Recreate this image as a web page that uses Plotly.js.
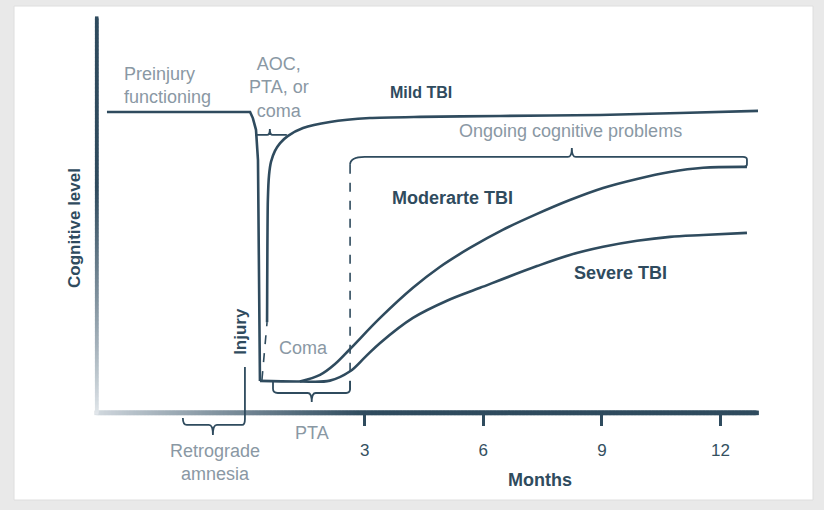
<!DOCTYPE html>
<html><head><meta charset="utf-8">
<script src="https://cdn.plot.ly/plotly-3.0.1.min.js"></script>
<style>html,body{margin:0;padding:0;background:#e9e9e9;overflow:hidden}#chart{width:824px;height:510px}</style>
</head><body><div id="chart"></div>
<script>
// ---- data (x = months after injury, y = cognitive level, arbitrary units) ----
const preinjuryMonths = [-3.52, 0.10, 0.17, 0.25, 0.30, 0.32, 0.35];
const preinjuryLevel  = [99.8, 99.8, 97.8, 93.9, 83.9, 54.0, 10.6];

const mildDashMonths = [0.40, 0.53];
const mildDashLevel  = [10.9, 30.1];
const mildMonths = [0.53, 0.55, 0.58, 0.63, 0.73, 0.86, 1.06, 1.44, 2.12, 3.13, 4.40, 6.42, 8.95, 10.97, 12.95];
const mildLevel  = [30.1, 70.6, 78.9, 83.3, 86.9, 89.5, 91.9, 94.5, 96.5, 97.8, 98.2, 98.5, 98.8, 99.5, 100.2];

const moderateMonths = [1.36, 1.87, 2.25, 2.63, 3.39, 4.22, 4.90, 5.66, 6.49, 7.36, 8.19, 9.03, 9.89, 10.72, 11.56, 12.67];
const moderateLevel  = [10.4, 12.6, 16.2, 21.2, 31.5, 41.5, 48.4, 54.7, 60.7, 66.0, 70.6, 74.6, 77.6, 79.9, 81.3, 81.6];

const severeMonths = [0.35, 1.36, 2.12, 2.63, 3.01, 3.39, 4.22, 5.08, 5.92, 7.36, 8.19, 9.03, 9.89, 10.72, 11.56, 12.67];
const severeLevel  = [10.6, 10.4, 10.7, 13.8, 18.5, 23.2, 31.5, 37.2, 41.5, 48.7, 52.4, 55.1, 57.1, 58.4, 59.0, 59.7];

const tickMonths = [3, 6, 9, 12];
const tickLabels = ['3', '6', '9', '12'];

// ---- styling ----
const DARK = '#2f4b5e';
const GREY = '#8a98a4';
const FONT = 'Liberation Sans, Arial, sans-serif';
const LW = 2.6;

function hex(c){return [parseInt(c.substr(1,2),16),parseInt(c.substr(3,2),16),parseInt(c.substr(5,2),16)];}
function mix(a,b,t){const A=hex(a),B=hex(b);return 'rgb('+A.map((v,i)=>Math.round(v+(B[i]-v)*t)).join(',')+')';}

const line = (x,y,extra) => Object.assign({x:x,y:y,type:'scatter',mode:'lines',hoverinfo:'skip',showlegend:false,
  line:{color:DARK,width:LW}},extra||{});

// gradient axis lines drawn as dense square markers (decoration)
const axX = -3.78, axTop = 131, axRight = 12.92;
const gx = [], gxc = [];
for (let m = axX; m <= axRight + 1e-9; m += 0.035) {
  gx.push(m);
  gxc.push(mix('#d3dae0', DARK, Math.pow(Math.min(1, (m - axX) / 6.8), 0.9)));
}
const gy = [], gyc = [];
for (let v = 0; v <= axTop + 1e-9; v += 0.45) {
  gy.push(v);
  gyc.push(mix('#e2e7eb', DARK, Math.pow(Math.min(1, v / 75), 0.9)));
}

const traces = [
  {x:gx, y:gx.map(()=>0), type:'scatter', mode:'markers', hoverinfo:'skip', showlegend:false, cliponaxis:false,
   marker:{symbol:'square', size:4.5, color:gxc, line:{width:0}}},
  {x:gy.map(()=>axX), y:gy, type:'scatter', mode:'markers', hoverinfo:'skip', showlegend:false, cliponaxis:false,
   marker:{symbol:'square', size:3.5, color:gyc, line:{width:0}}},
  line(preinjuryMonths, preinjuryLevel),
  line(mildDashMonths, mildDashLevel, {line:{color:DARK,width:1.6,dash:'dash'}}),
  line(mildMonths, mildLevel, {line:{color:DARK,width:LW,shape:'spline',smoothing:0.6}}),
  line(moderateMonths, moderateLevel, {line:{color:DARK,width:LW,shape:'spline',smoothing:1}}),
  line(severeMonths, severeLevel, {line:{color:DARK,width:LW,shape:'spline',smoothing:1}})
];

const shapes = [];
// white panel
shapes.push({type:'rect',xref:'paper',yref:'paper',x0:-0.1101,x1:1.0789,y0:-0.1422,y1:1.0284,
  fillcolor:'#ffffff',line:{color:'#dedede',width:1},layer:'below'});

const brace = p => ({type:'path',xref:'x',yref:'y',path:p,line:{color:DARK,width:1.8}});
// AOC / PTA / coma brace
shapes.push(brace('M 0.23,92.2 L 0.53,92.2 Q 0.60,92.2 0.60,94.2 Q 0.60,92.2 0.67,92.2 L 1.03,92.2'));
// ongoing cognitive problems brace
shapes.push(brace('M 2.63,82.3 Q 2.63,84.9 3.0,84.9 L 8.14,84.9 Q 8.24,84.9 8.24,87.9 Q 8.24,84.9 8.34,84.9 L 12.57,84.9 Q 12.67,84.9 12.67,84.0 L 12.67,82.5 Q 12.67,81.6 12.57,81.6'));
// PTA brace
shapes.push(brace('M 0.68,10.6 L 0.68,8.0 Q 0.68,6.6 0.8,6.6 L 1.56,6.6 Q 1.66,6.6 1.66,3.6 Q 1.66,6.6 1.76,6.6 L 2.53,6.6 Q 2.63,6.6 2.63,8.0 L 2.63,10.6'));
// retrograde amnesia brace + injury marker
shapes.push(brace('M -1.60,-1.7 Q -1.60,-4.0 -1.50,-4.0 L -0.94,-4.0 Q -0.84,-4.0 -0.84,-7.3 Q -0.84,-4.0 -0.74,-4.0 L -0.10,-4.0 Q -0.03,-4.0 -0.03,-2.0 L -0.03,15.2'));
// dashed PTA end line
shapes.push({type:'line',xref:'x',yref:'y',x0:2.63,x1:2.63,y0:82.3,y1:6.6,line:{color:DARK,width:1.6,dash:'dash'}});

const ann = (text,x,y,o) => Object.assign({text:text,x:x,y:y,xref:'x',yref:'y',showarrow:false,
  xanchor:'center',yanchor:'middle',font:{family:FONT,size:18,color:GREY}},o||{});
const bold = (sz) => ({family:FONT,size:sz,color:DARK,weight:'bold'});

const annotations = [
  ann('Preinjury<br>functioning', -3.14, 108.5, {xanchor:'left',align:'left'}),
  ann('AOC,<br>PTA, or<br>coma', 0.83, 108.1),
  ann('<b>Mild TBI</b>', 4.42, 106.4, {font:bold(16)}),
  ann('Ongoing cognitive problems', 8.21, 93.5),
  ann('<b>Moderarte TBI</b>', 5.21, 71.3, {font:bold(18)}),
  ann('<b>Severe TBI</b>', 9.46, 46.4, {font:bold(18)}),
  ann('<b>Injury</b>', -0.13, 27.2, {font:bold(17),textangle:-90}),
  ann('Coma', 1.44, 21.5),
  ann('PTA', 1.66, -6.7),
  ann('Retrograde<br>amnesia', -0.79, -0.0533, {yref:'paper'}),
  ann('<b>Months</b>', 7.43, -0.0948, {yref:'paper', font:bold(18)}),
  ann('<b>Cognitive level</b>', -0.0193, 0.5024, {xref:'paper', yref:'paper', font:bold(17), textangle:-90})
];

const layout = {
  width:824, height:510,
  margin:{l:88, r:64, t:18, b:70},
  paper_bgcolor:'#e9e9e9', plot_bgcolor:'rgba(0,0,0,0)',
  showlegend:false,
  xaxis:{range:[-4.0,13.0], anchor:'free', position:9/140, showgrid:false, zeroline:false, showline:false,
    tickmode:'array', tickvals:tickMonths, ticktext:tickLabels, ticks:'outside', ticklen:12, tickwidth:3,
    tickcolor:DARK, ticklabelstandoff:10, tickfont:{family:FONT,size:17,color:'#34505f'}, fixedrange:true},
  yaxis:{range:[-9,131], showgrid:false, zeroline:false, showline:false, showticklabels:false, ticks:'', fixedrange:true},
  shapes:shapes,
  annotations:annotations
};

Plotly.newPlot('chart', traces, layout, {staticPlot:true, displayModeBar:false});
</script>
</body></html>
